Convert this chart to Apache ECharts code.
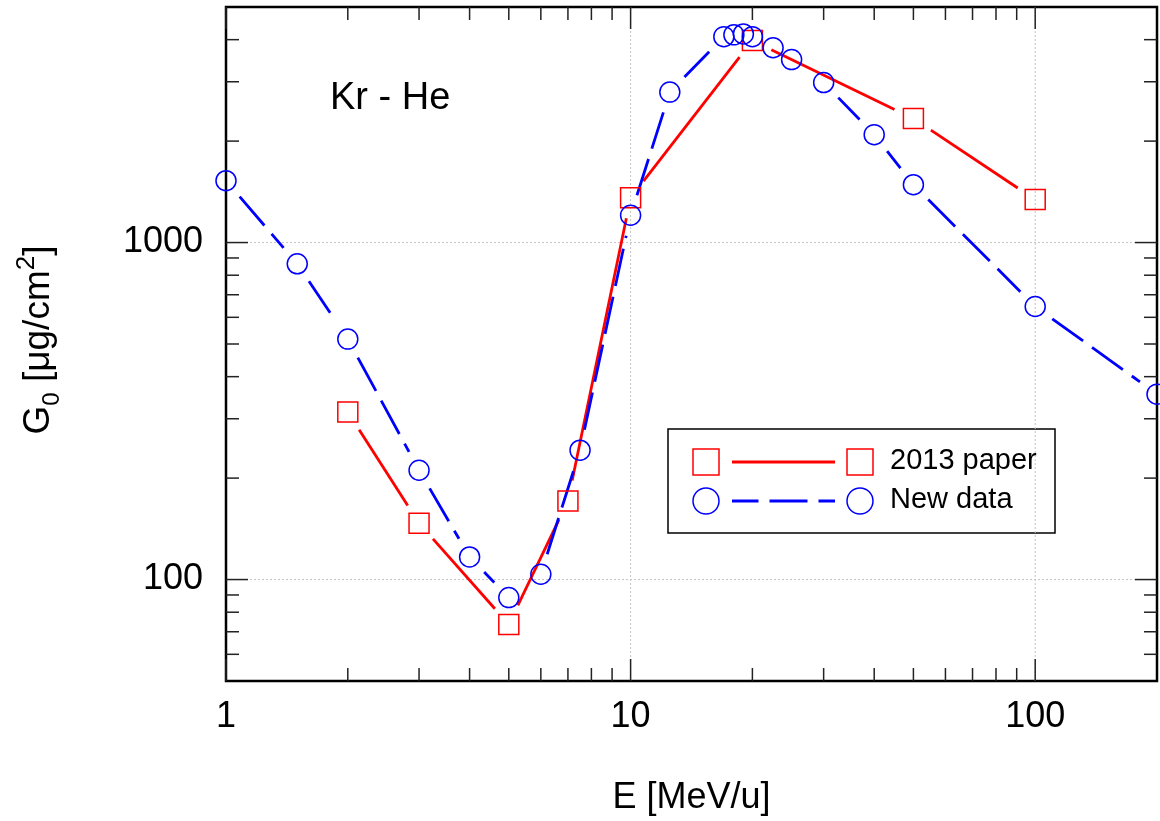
<!DOCTYPE html>
<html>
<head>
<meta charset="utf-8">
<script src="https://cdn.jsdelivr.net/npm/echarts@6/dist/echarts.min.js"></script>
<style>html,body{margin:0;padding:0;background:#fff}#c{width:1160px;height:821px}</style>
</head>
<body>
<div id="c"></div>
<script>
// ---- data ----
const paperE = [2, 3, 5, 7, 10, 20, 50, 100];
const paperG = [314, 147, 73.6, 171, 1359, 3975, 2333, 1341];
const newE = [1, 1.5, 2, 3, 4, 5, 6, 7.5, 10, 12.5, 17, 18, 19, 20, 22.5, 25, 30, 40, 50, 100, 200];
const newG = [1526, 865, 517, 211, 116.7, 88.4, 103.7, 242, 1205, 2795, 4083, 4133, 4160, 4083, 3785, 3490, 2984, 2090, 1485, 646, 355];
const xLabelTicks = [1, 10, 100];
const yLabelTicks = [100, 1000];
const xMinorTicks = [2, 3, 4, 5, 6, 7, 8, 9, 20, 30, 40, 50, 60, 70, 80, 90];
const yMinorTicks = [60, 70, 80, 90, 200, 300, 400, 500, 600, 700, 800, 900, 2000, 3000, 4000];
const X_MIN = 1, X_MAX = 200, Y_MIN = 50, Y_MAX = 5000;
const seriesNames = ['2013 paper', 'New data'];

const FONT = '"Liberation Sans", Arial, Helvetica, sans-serif';
const RED = '#ff0000', BLUE = '#0000ff';
const BLUE_DASH = [38, 11];

function pairs(xs, ys) { return xs.map((x, i) => [x, ys[i]]); }
function segments(xs, ys) {
  const out = [];
  for (let i = 0; i < xs.length - 1; i++) out.push([xs[i], ys[i], xs[i + 1], ys[i + 1]]);
  return out;
}
function isIn(list, v) { return list.some(t => Math.abs(t - v) / t < 1e-6); }

function segRender(color, dash, trim) {
  return function (params, api) {
    const p1 = api.coord([api.value(0), api.value(1)]);
    const p2 = api.coord([api.value(2), api.value(3)]);
    const dx = p2[0] - p1[0], dy = p2[1] - p1[1];
    const len = Math.hypot(dx, dy);
    if (len <= 2 * trim + 1) return { type: 'group', children: [] };
    const ux = dx / len, uy = dy / len;
    return {
      type: 'line',
      shape: { x1: p1[0] + ux * trim, y1: p1[1] + uy * trim, x2: p2[0] - ux * trim, y2: p2[1] - uy * trim },
      style: { stroke: color, lineWidth: 2.8, lineDash: dash, fill: null }
    };
  };
}

function xTickRender(len) {
  return function (params, api) {
    const cs = params.coordSys;
    const x = api.coord([api.value(0), Y_MIN])[0];
    const st = { stroke: '#222', lineWidth: 1.5 };
    return { type: 'group', children: [
      { type: 'line', shape: { x1: x, y1: cs.y + cs.height, x2: x, y2: cs.y + cs.height - len }, style: st },
      { type: 'line', shape: { x1: x, y1: cs.y, x2: x, y2: cs.y + len }, style: st }
    ]};
  };
}
function yTickRender(len) {
  return function (params, api) {
    const cs = params.coordSys;
    const y = api.coord([X_MIN, api.value(1)])[1];
    const st = { stroke: '#222', lineWidth: 1.5 };
    return { type: 'group', children: [
      { type: 'line', shape: { x1: cs.x, y1: y, x2: cs.x + len, y2: y }, style: st },
      { type: 'line', shape: { x1: cs.x + cs.width, y1: y, x2: cs.x + cs.width - len, y2: y }, style: st }
    ]};
  };
}
function xGridRender(params, api) {
  const cs = params.coordSys;
  const x = api.coord([api.value(0), Y_MIN])[0];
  if (Math.abs(x - cs.x) < 2 || Math.abs(x - cs.x - cs.width) < 2) return { type: 'group', children: [] };
  return { type: 'line', shape: { x1: x, y1: cs.y, x2: x, y2: cs.y + cs.height },
    style: { stroke: '#c4c4c4', lineWidth: 1, lineDash: [2, 2] } };
}
function yGridRender(params, api) {
  const cs = params.coordSys;
  const y = api.coord([X_MIN, api.value(1)])[1];
  return { type: 'line', shape: { x1: cs.x, y1: y, x2: cs.x + cs.width, y2: y },
    style: { stroke: '#c4c4c4', lineWidth: 1, lineDash: [2, 2] } };
}

const chart = echarts.init(document.getElementById('c'), null, { renderer: 'canvas' });

const option = {
  animation: false,
  backgroundColor: '#fff',
  textStyle: { fontFamily: FONT },
  grid: { left: 226, top: 7, right: 1, bottom: 139, show: true, borderColor: '#000', borderWidth: 2.5, backgroundColor: 'transparent' },
  xAxis: {
    type: 'log', logBase: 10, min: X_MIN, max: X_MAX,
    axisLine: { show: false }, axisTick: { show: false }, splitLine: { show: false },
    axisLabel: { fontSize: 36, color: '#000', fontFamily: FONT, margin: 18,
      formatter: v => isIn(xLabelTicks, v) ? String(Math.round(v)) : '' },
    name: 'E [MeV/u]', nameLocation: 'middle', nameGap: 99,
    nameTextStyle: { fontSize: 36, color: '#000', fontFamily: FONT }
  },
  yAxis: {
    type: 'log', logBase: 10, min: Y_MIN, max: Y_MAX,
    axisLine: { show: false }, axisTick: { show: false }, splitLine: { show: false },
    axisLabel: { fontSize: 36, color: '#000', fontFamily: FONT, margin: 23,
      formatter: v => isIn(yLabelTicks, v) ? String(Math.round(v)) : '' }
  },
  graphic: [
    { type: 'text', x: 330, y: 99, z: 100,
      style: { text: 'Kr - He', fontSize: 38, fontFamily: FONT, fill: '#000', align: 'left', verticalAlign: 'middle' } },
    { type: 'text', x: 39, y: 340, rotation: Math.PI / 2, z: 100,
      style: { text: 'G{sub|0} [μg/cm{sup|2}]', fontSize: 37, fontFamily: FONT, fill: '#000',
        align: 'center', verticalAlign: 'middle', lineHeight: 50,
        rich: {
          sub: { fontSize: 24, fontFamily: FONT, fill: '#000', lineHeight: 24, verticalAlign: 'bottom' },
          sup: { fontSize: 26, fontFamily: FONT, fill: '#000', lineHeight: 22, verticalAlign: 'top' }
        } } },
    { type: 'group', z: 100, children: [
      { type: 'rect', shape: { x: 668, y: 429, width: 387, height: 104 }, style: { fill: '#fff', stroke: '#000', lineWidth: 1.5 } },
      { type: 'rect', shape: { x: 693, y: 449, width: 26, height: 26 }, style: { fill: 'none', stroke: RED, lineWidth: 1.5 } },
      { type: 'line', shape: { x1: 732, y1: 462, x2: 835, y2: 462 }, style: { stroke: RED, lineWidth: 3 } },
      { type: 'rect', shape: { x: 847, y: 449, width: 26, height: 26 }, style: { fill: 'none', stroke: RED, lineWidth: 1.5 } },
      { type: 'text', x: 890, y: 461, style: { text: seriesNames[0], fontSize: 29, fontFamily: FONT, fill: '#000', verticalAlign: 'middle' } },
      { type: 'circle', shape: { cx: 706, cy: 501, r: 13 }, style: { fill: 'none', stroke: BLUE, lineWidth: 1.5 } },
      { type: 'line', shape: { x1: 732, y1: 501, x2: 835, y2: 501 }, style: { stroke: BLUE, lineWidth: 3, lineDash: BLUE_DASH, lineDashOffset: 11.5 } },
      { type: 'circle', shape: { cx: 860, cy: 501, r: 13 }, style: { fill: 'none', stroke: BLUE, lineWidth: 1.5 } },
      { type: 'text', x: 890, y: 500, style: { text: seriesNames[1], fontSize: 29, fontFamily: FONT, fill: '#000', verticalAlign: 'middle' } }
    ]}
  ],
  series: [
    { type: 'custom', name: 'xgrid', renderItem: xGridRender, data: xLabelTicks.map(v => [v, Y_MIN]), encode: { x: 0, y: 1 }, z: 0, silent: true },
    { type: 'custom', name: 'ygrid', renderItem: yGridRender, data: yLabelTicks.map(v => [X_MIN, v]), encode: { x: 0, y: 1 }, z: 0, silent: true },
    { type: 'custom', name: 'xminor', renderItem: xTickRender(13), data: xMinorTicks.map(v => [v, Y_MIN]), encode: { x: 0, y: 1 }, z: 5, silent: true },
    { type: 'custom', name: 'xmajor', renderItem: xTickRender(22), data: xLabelTicks.map(v => [v, Y_MIN]), encode: { x: 0, y: 1 }, z: 5, silent: true },
    { type: 'custom', name: 'yminor', renderItem: yTickRender(13), data: yMinorTicks.map(v => [X_MIN, v]), encode: { x: 0, y: 1 }, z: 5, silent: true },
    { type: 'custom', name: 'ymajor', renderItem: yTickRender(22), data: yLabelTicks.map(v => [X_MIN, v]), encode: { x: 0, y: 1 }, z: 5, silent: true },
    { type: 'custom', name: seriesNames[0] + ' line', renderItem: segRender(RED, null, 21), data: segments(paperE, paperG), encode: { x: [0, 2], y: [1, 3] }, z: 3, silent: true },
    { type: 'custom', name: seriesNames[1] + ' line', renderItem: segRender(BLUE, BLUE_DASH, 21), data: segments(newE, newG), encode: { x: [0, 2], y: [1, 3] }, z: 3, silent: true },
    { type: 'scatter', name: seriesNames[0], data: pairs(paperE, paperG), symbol: 'rect', symbolSize: 20, clip: true, z: 4,
      itemStyle: { color: 'rgba(0,0,0,0)', borderColor: RED, borderWidth: 1.5, opacity: 1 } },
    { type: 'scatter', name: seriesNames[1], data: pairs(newE, newG), symbol: 'circle', symbolSize: 20, clip: true, z: 4,
      itemStyle: { color: 'rgba(0,0,0,0)', borderColor: BLUE, borderWidth: 1.5, opacity: 1 } }
  ]
};
chart.setOption(option);
</script>
</body>
</html>
